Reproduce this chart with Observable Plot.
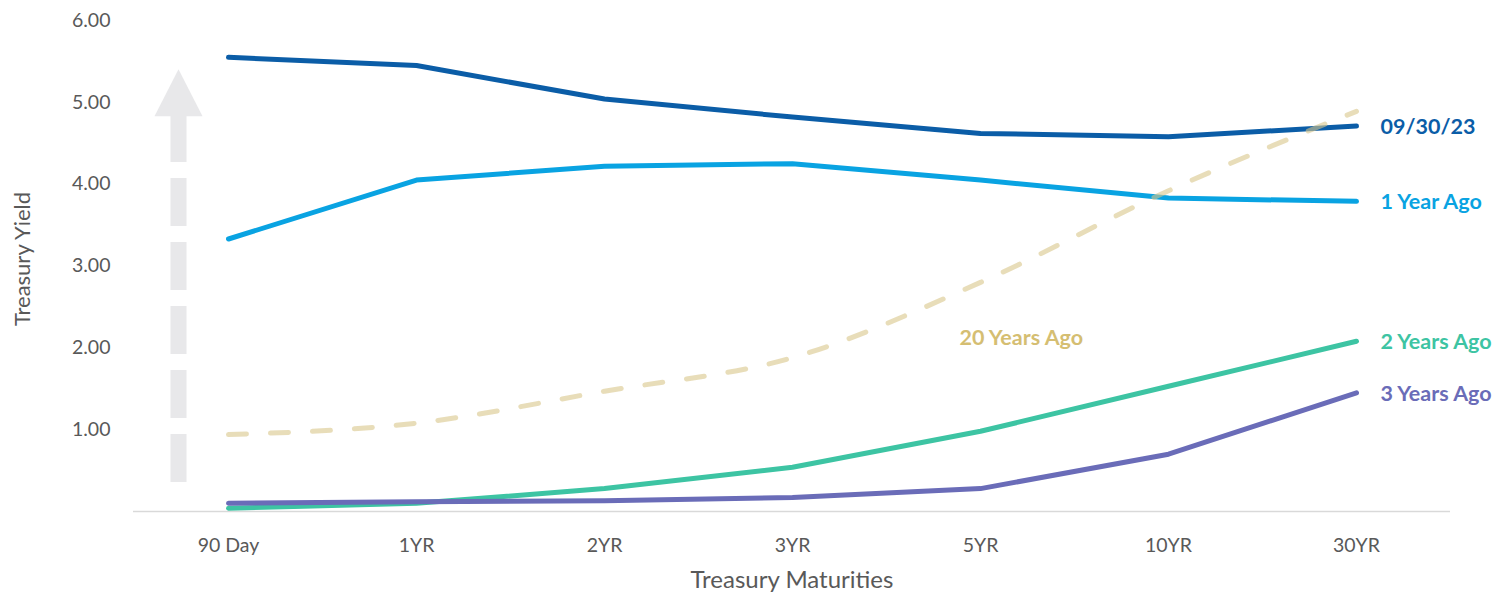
<!DOCTYPE html>
<html>
<head>
<meta charset="utf-8">
<script src="https://cdn.jsdelivr.net/npm/d3@7"></script>
<script src="https://cdn.jsdelivr.net/npm/@observablehq/plot@0.6"></script>
<style>
  html, body { margin: 0; padding: 0; background: #fff; }
  #chart { width: 1512px; height: 595px; }
</style>
</head>
<body>
<div id="chart"></div>
<script>
const maturities = ["90 Day", "1YR", "2YR", "3YR", "5YR", "10YR", "30YR"];
const current   = [5.55, 5.45, 5.04, 4.82, 4.62, 4.58, 4.71];
const oneYear   = [3.33, 4.05, 4.22, 4.25, 4.05, 3.83, 3.79];
const twoYears  = [0.04, 0.10, 0.28, 0.54, 0.98, 1.53, 2.08];
const threeYears= [0.10, 0.12, 0.13, 0.17, 0.28, 0.70, 1.45];
const twentyYears=[0.94, 1.08, 1.47, 1.88, 2.80, 3.92, 4.89];
const yTicks = [1, 2, 3, 4, 5, 6];

const seriesNames = ["09/30/23", "1 Year Ago", "2 Years Ago", "3 Years Ago", "20 Years Ago"];
const seriesValues = [current, oneYear, twoYears, threeYears, twentyYears];
const seriesColors = ["#0B5DA7", "#09A3E2", "#3DC4A3", "#6A6CB8", "#D5BE72"];
const yTitle = "Treasury Yield";
const xTitle = "Treasury Maturities";

const rows = (vals) => maturities.map((m, i) => ({ m, v: vals[i] }));
const solid = [0, 1, 2, 3];
const endLabels = solid.map(i => ({ name: seriesNames[i], m: maturities[maturities.length - 1], v: seriesValues[i][maturities.length - 1], c: seriesColors[i] }));
const arrowLine = [{ m: maturities[0], y1: 0.355, y2: 4.83 }];

const tri = { draw(ctx) { ctx.moveTo(0, -47); ctx.lineTo(24, 0); ctx.lineTo(-24, 0); ctx.closePath(); } };

const marks = [
  Plot.ruleY([0], { stroke: "#D9D9D9", strokeWidth: 1.5 }),
  Plot.ruleX(arrowLine, { x: "m", y1: "y1", y2: "y2", dx: -50, stroke: "#E8E8EA", strokeWidth: 16, strokeDasharray: "48,16" }),
  Plot.dot(arrowLine, { x: "m", y: "y2", dx: -50, symbol: tri, fill: "#E8E8EA", stroke: "none", r: 10 }),
  ...solid.map(i => Plot.line(rows(seriesValues[i]), { x: "m", y: "v", stroke: seriesColors[i], strokeWidth: 5, strokeLinecap: "round", strokeLinejoin: "round" })),
  Plot.line(rows(twentyYears), { x: "m", y: "v", stroke: "#D9C78A", strokeOpacity: 0.6, strokeWidth: 5, strokeLinecap: "round", strokeDasharray: "18,24", curve: "monotone-x" }),
  Plot.text(endLabels, { x: "m", y: "v", text: "name", fill: "c", dx: 24, dy: 1, textAnchor: "start", fontWeight: "bold", fontSize: 21.5 }),
  Plot.text([{ name: seriesNames[4], m: "5YR", v: 2.12 }], { x: "m", y: "v", text: "name", fill: seriesColors[4], dx: -21, textAnchor: "start", fontWeight: "bold", fontSize: 21.5 }),
  Plot.axisY({ ticks: yTicks, tickFormat: d => d.toFixed(2), tickSize: 0, tickPadding: 23, fontSize: 19.5, label: null }),
  Plot.axisX({ tickSize: 0, tickPadding: 27, fontSize: 19.5, label: null }),
  Plot.text([yTitle], { frameAnchor: "left", textAnchor: "middle", rotate: -90, dx: -111, dy: -7, fontSize: 22, fill: "#595959" }),
  Plot.text([xTitle], { frameAnchor: "bottom", textAnchor: "middle", dy: 76, fontSize: 24, fill: "#595959" })
];

const chart = Plot.plot({
  width: 1512,
  height: 595,
  marginLeft: 133,
  marginRight: 62,
  marginTop: 20,
  marginBottom: 84,
  style: { fontFamily: "Lato, 'Open Sans', sans-serif", color: "#595959", background: "#fff", fontSize: "19px" },
  x: { type: "point", domain: maturities, padding: 0.5 },
  y: { domain: [0, 6] },
  marks
});
document.getElementById("chart").appendChild(chart);
</script>
</body>
</html>
